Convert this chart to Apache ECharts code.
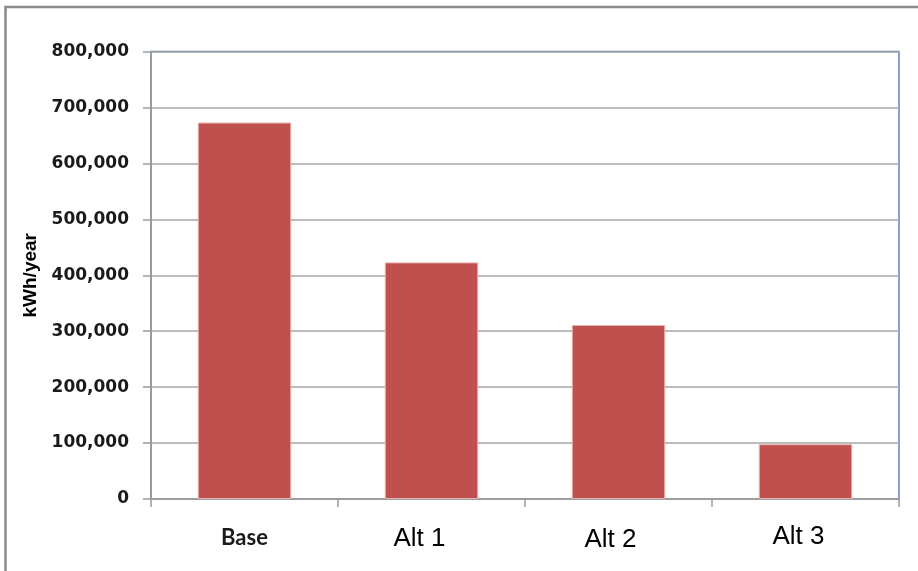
<!DOCTYPE html>
<html>
<head>
<meta charset="utf-8">
<title>Annual energy use</title>
<script src="https://cdn.jsdelivr.net/npm/echarts@6/dist/echarts.min.js"></script>
<style>
  html, body { margin: 0; padding: 0; background: #ffffff; }
  #chart { width: 918px; height: 571px; }
</style>
</head>
<body>
<div id="chart"></div>
<script>
// Scenario names along the x axis
const categories = ['Base', 'Alt 1', 'Alt 2', 'Alt 3'];
// Annual electricity use per scenario, kWh/year
const energyUse = [673000, 423000, 311000, 98000];
// Value axis range and step
const yMin = 0;
const yMax = 800000;
const yStep = 100000;
// Rich-text style key for each category label
const labelKeys = ['base', 'alt1', 'alt2', 'alt3'];

const chart = echarts.init(document.getElementById('chart'), null, { renderer: 'canvas' });

const altLabel = {
  fontFamily: 'Liberation Sans, Arial, sans-serif',
  fontSize: 26,
  color: '#000000',
  lineHeight: 30
};

chart.setOption({
  animation: false,
  backgroundColor: '#ffffff',
  graphic: [{
    type: 'rect',
    shape: { x: 5.5, y: 7, width: 1000, height: 1000 },
    style: { fill: 'none', stroke: '#8a8a8a', lineWidth: 2.5 },
    silent: true,
    z: 100
  }],
  grid: {
    left: 151,
    top: 51.5,
    right: 19,
    bottom: 72,
    show: true,
    borderColor: '#5b86c4',
    borderWidth: 1.5,
    backgroundColor: 'transparent'
  },
  xAxis: {
    type: 'category',
    data: categories,
    boundaryGap: true,
    axisLine: { show: true, lineStyle: { color: '#9a9a9a', width: 1.5 } },
    axisTick: { show: true, length: 8, alignWithLabel: false, lineStyle: { color: '#9a9a9a', width: 1.5 } },
    axisLabel: {
      margin: 20,
      interval: 0,
      formatter: function (v, i) { return '{' + labelKeys[i] + '|' + v + '}'; },
      rich: {
        base: {
          fontFamily: 'Lato, Open Sans, sans-serif',
          fontWeight: 'bold',
          fontSize: 22,
          color: '#1a1a1a',
          lineHeight: 26,
          padding: [11, 0, 0, 0]
        },
        alt1: Object.assign({}, altLabel, { padding: [10, 24, 0, 0] }),
        alt2: Object.assign({}, altLabel, { padding: [11, 16, 0, 0] }),
        alt3: Object.assign({}, altLabel, { padding: [6, 14, 0, 0] })
      }
    },
    splitLine: { show: false }
  },
  yAxis: {
    type: 'value',
    min: yMin,
    max: yMax,
    interval: yStep,
    name: 'kWh/year',
    nameLocation: 'middle',
    nameGap: 102,
    nameRotate: 90,
    nameTextStyle: {
      fontFamily: 'Liberation Sans, Arial, sans-serif',
      fontWeight: 'bold',
      fontSize: 19,
      color: '#000000',
      padding: [0, 0, 8, 0]
    },
    axisLine: { show: true, lineStyle: { color: '#9a9a9a', width: 1.5 } },
    axisTick: { show: true, inside: false, length: 8, lineStyle: { color: '#9a9a9a', width: 1.5 } },
    axisLabel: {
      margin: 22,
      fontFamily: 'DejaVu Sans, Verdana, sans-serif',
      fontWeight: 'bold',
      fontSize: 17,
      color: '#1a1a1a',
      formatter: function (v) { return v.toLocaleString('en-US'); }
    },
    splitLine: { show: true, lineStyle: { color: '#a6a6a6', width: 1.5 } }
  },
  series: [{
    type: 'bar',
    data: energyUse,
    barWidth: '50%',
    itemStyle: {
      color: '#c0504d',
      borderColor: '#e8b4b3',
      borderWidth: 1
    }
  }]
});
</script>
</body>
</html>
